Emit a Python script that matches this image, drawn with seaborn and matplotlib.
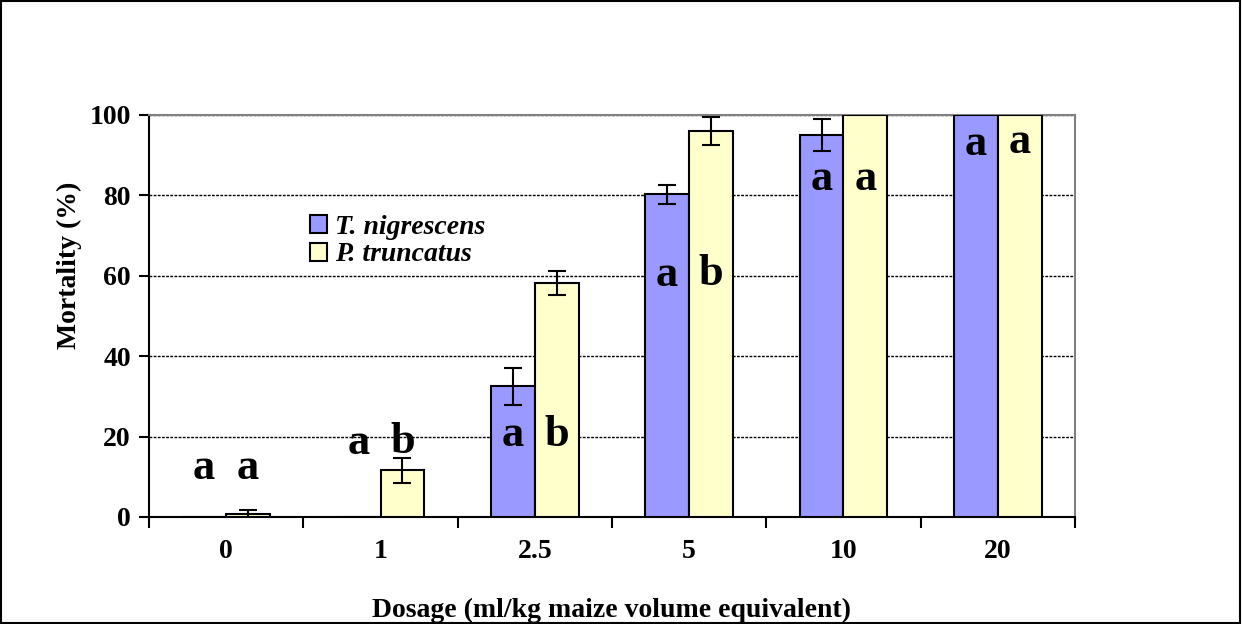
import matplotlib
matplotlib.use("Agg")
import matplotlib.pyplot as plt
import seaborn as sns
import pandas as pd
import numpy as np
from matplotlib.patches import Rectangle, Patch

# ---- data ----
dosages = ["0", "1", "2.5", "5", "10", "20"]
species = ["T. nigrescens", "P. truncatus"]
t_nig = [0, 0, 32.5, 80.3, 95.1, 100]
p_trunc = [0.7, 11.6, 58.3, 96.0, 100, 100]
t_nig_err = [0, 0, 4.6, 2.4, 4.0, 0]
p_trunc_err = [1.0, 3.2, 3.0, 3.4, 0, 0]
t_letters = ["a", "a", "a", "a", "a", "a"]
p_letters = ["a", "b", "b", "b", "a", "a"]
t_letter_y = [9.5, 15.7, 17.7, 57.5, 81.3, 90.0]
p_letter_y = [9.5, 15.9, 17.7, 57.7, 81.3, 90.5]
yticks = [0, 20, 40, 60, 80, 100]

colors = {"T. nigrescens": "#9999FF", "P. truncatus": "#FFFFCC"}

df = pd.DataFrame({
    "Dosage": dosages * 2,
    "Species": [species[0]] * len(dosages) + [species[1]] * len(dosages),
    "Mortality": t_nig + p_trunc,
})

sns.set_style("white")
plt.rcParams["font.family"] = ["Liberation Serif", "DejaVu Serif"]
for key in ["text.color", "axes.labelcolor", "xtick.color", "ytick.color"]:
    plt.rcParams[key] = "black"

fig = plt.figure(figsize=(12.42, 6.24), dpi=100)
ax = fig.add_axes([149 / 1242, 1 - 517 / 624, 926 / 1242, 402 / 624])

sns.barplot(data=df, x="Dosage", y="Mortality", hue="Species",
            order=dosages, hue_order=species, palette=colors,
            saturation=1, edgecolor="black", linewidth=1.5, width=0.57,
            errorbar=None, legend=False, ax=ax, zorder=3)

# error bars and letters, placed at the bar centres from the library
bar_containers = list(ax.containers)
errs = [t_nig_err, p_trunc_err]
vals = [t_nig, p_trunc]
letters = [t_letters, p_letters]
letter_ys = [t_letter_y, p_letter_y]
for k, cont in enumerate(bar_containers):
    xs = [b.get_x() + b.get_width() / 2 for b in cont]
    e = np.array(errs[k])
    v = np.array(vals[k])
    mask = e > 0
    ax.errorbar(np.array(xs)[mask], v[mask], yerr=e[mask], fmt="none",
                ecolor="black", elinewidth=1.5, capsize=6.5,
                capthick=1.5, zorder=4)
    for x, lab, ly in zip(xs, letters[k], letter_ys[k]):
        ax.text(x, ly, lab, ha="center", va="baseline", fontsize=32,
                fontweight="bold", color="black", zorder=5)

ax.set_ylim(0, 100)
ax.set_xlim(-0.5, len(dosages) - 0.5)
ax.set_yticks(yticks)
ax.set_yticklabels([str(t) for t in yticks], fontsize=20, fontweight="bold")
ax.set_xticks(range(len(dosages)))
ax.set_xticklabels(dosages, fontsize=20, fontweight="bold")
ax.set_xticks(np.arange(-0.5, len(dosages), 1.0), minor=True)
ax.tick_params(axis="x", which="major", length=0, pad=16)
ax.tick_params(axis="x", which="minor", length=8, width=1.5,
               direction="out", color="black", bottom=True)
ax.tick_params(axis="y", length=7, width=1.5, direction="out",
               color="black", left=True, pad=6)

ax.yaxis.grid(True, color="black", linestyle=(0, (2, 1)), linewidth=1.0)
ax.set_axisbelow(True)

for s in ["left", "bottom"]:
    ax.spines[s].set_color("black")
    ax.spines[s].set_linewidth(1.5)
for s in ["top", "right"]:
    ax.spines[s].set_color("#808080")
    ax.spines[s].set_linewidth(1.5)
    ax.spines[s].set_visible(True)

ax.set_xlabel("Dosage (ml/kg maize volume equivalent)", fontsize=20,
              fontweight="bold", labelpad=24)
ax.set_ylabel("Mortality (%)", fontsize=20, fontweight="bold")
ax.yaxis.set_label_coords(-0.072, 0.627)

handles = [Patch(facecolor=colors[s], edgecolor="black", linewidth=1.5)
           for s in species]
leg = ax.legend(handles, species, loc="upper left",
                bbox_to_anchor=(0.174, 0.752), frameon=False,
                prop={"family": ["Liberation Serif"], "size": 20,
                      "weight": "bold", "style": "italic"},
                handlelength=0.6, handleheight=0.6, handletextpad=0.3,
                labelspacing=0.1, borderpad=0, borderaxespad=0)

fig.patches.append(Rectangle((0.001, 0.002), 0.997, 0.996,
                             transform=fig.transFigure, fill=False,
                             edgecolor="black", linewidth=1.5))

fig.savefig("out.png", dpi=100)
